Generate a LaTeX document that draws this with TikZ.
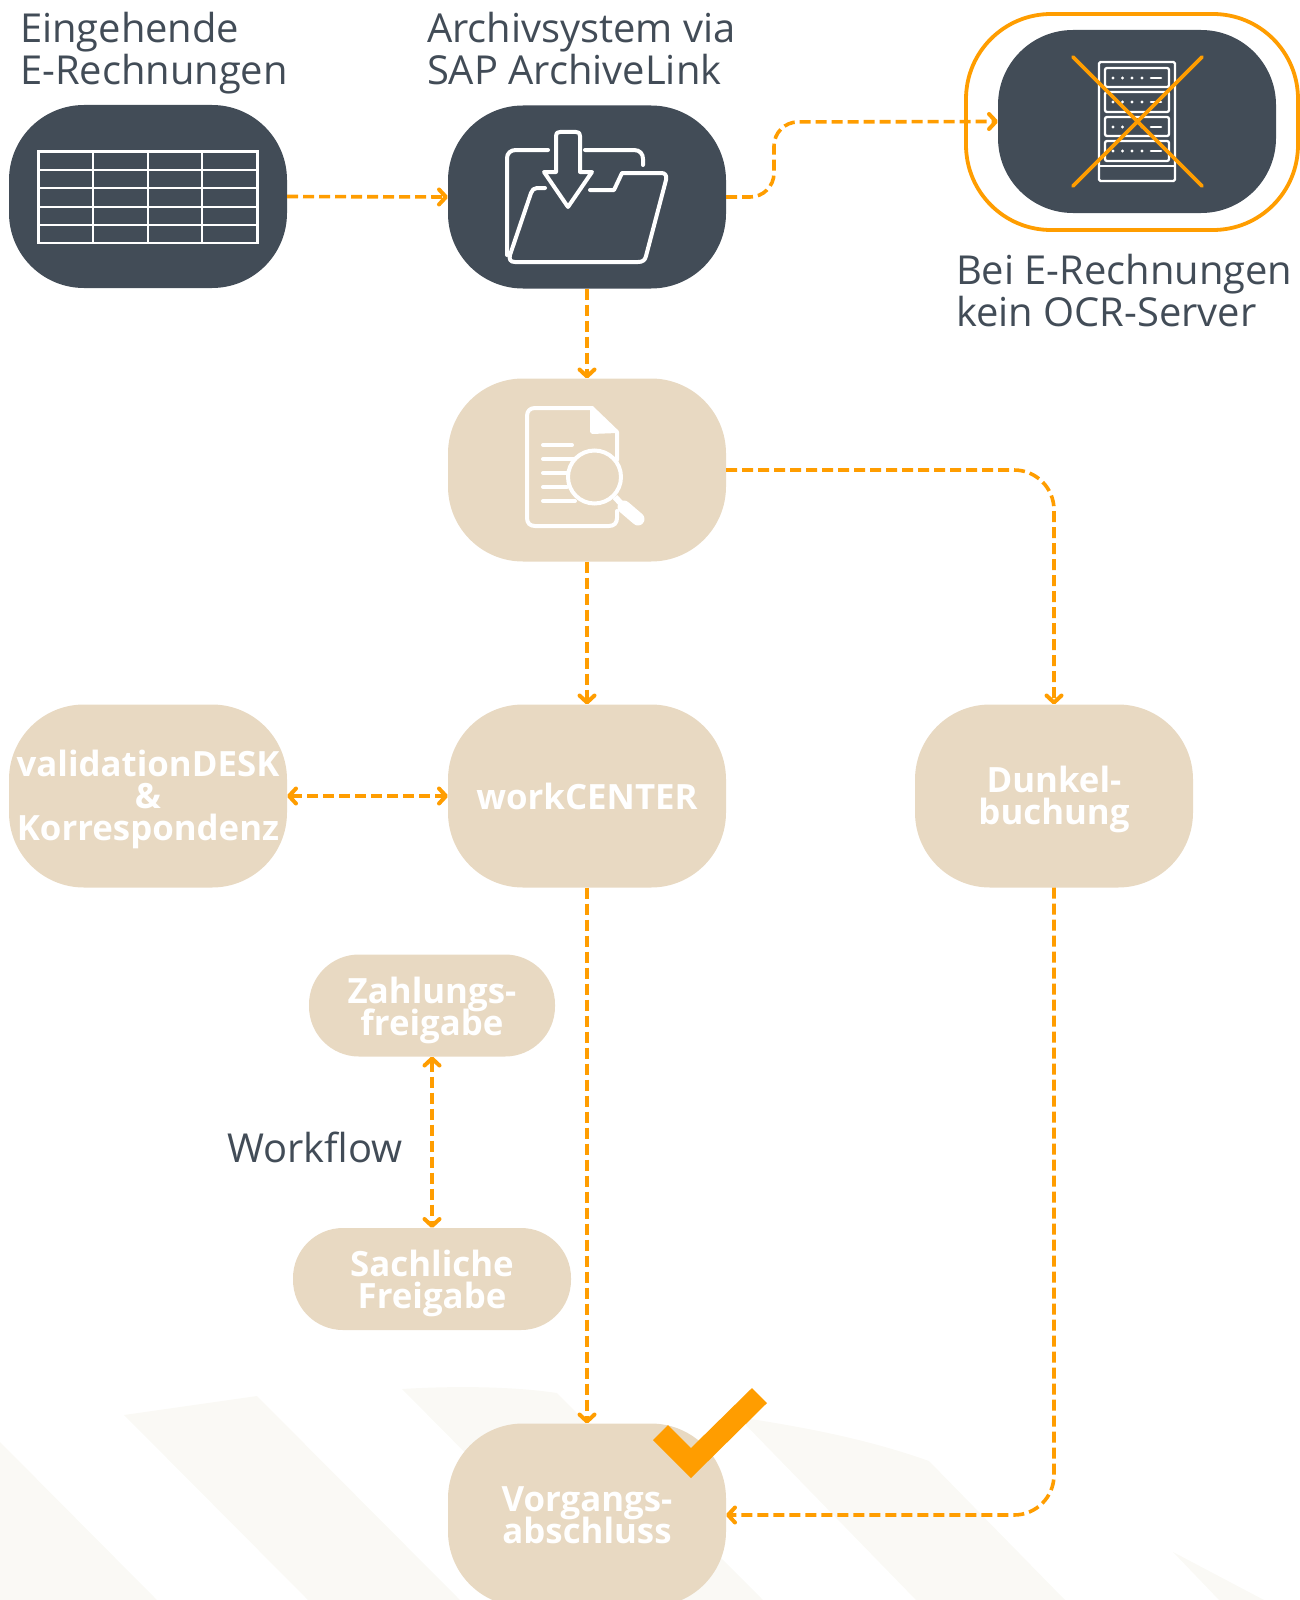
\documentclass[tikz,border=0pt]{standalone}
\usepackage{fontspec}
\setmainfont{Open Sans}
\usetikzlibrary{arrows.meta}
\normallineskiplimit=-100pt
\lineskiplimit=-100pt
\newcommand{\dn}[2]{\raisebox{-#1}[\height][\depth]{#2}}
\definecolor{dark}{HTML}{424C57}
\definecolor{beige}{HTML}{E8D9C2}
\definecolor{org}{HTML}{FF9D00}
\definecolor{faint}{HTML}{FAF9F5}
\tikzset{
  stepbase/.style={rectangle,rounded corners=75pt,minimum width=278pt,minimum height=183pt,inner sep=0pt,outer sep=0pt,align=center},
  darkbox/.style={stepbase,fill=dark},
  lightbox/.style={stepbase,fill=beige,text=white,font=\fontsize{34.8}{32}\selectfont\bfseries},
  smallbox/.style={lightbox,rounded corners=50pt,minimum height=102pt},
  lbl/.style={inner sep=0pt,outer sep=0pt,align=left,anchor=west,text=dark,font=\fontsize{39.9}{42}\selectfont},
  flow/.style={draw=org,line width=3.6pt,dash pattern=on 11pt off 5pt,rounded corners=36pt,
    -{Straight Barb[length=7pt,width=15pt,line width=4pt,round]}},
  flowboth/.style={flow,{Straight Barb[length=7pt,width=15pt,line width=4pt,round]}-{Straight Barb[length=7pt,width=15pt,line width=4pt,round]}},
  icon/.style={draw=white,line width=2.3pt},
  iconb/.style={draw=white,line width=4pt,line cap=round,line join=round},
}
\begin{document}
\begin{tikzpicture}[x=1pt,y=-1pt]
\useasboundingbox (0,0) rectangle (1300,1600);
\clip (0,0) rectangle (1300,1600);
% background bands
\fill[faint] (0,1442) -- (157,1600) -- (0,1600) -- cycle;
\fill[faint] (124,1415) -- (257,1396) -- (460,1600) -- (308,1600) -- cycle;
\fill[faint] (402,1389) .. controls (450,1386) and (510,1386) .. (557,1393) -- (763,1600) -- (611,1600) -- cycle;
\fill[faint] (738,1417) .. controls (810,1428) and (870,1440) .. (929,1461) -- (1065,1600) -- (916,1600) -- cycle;
\fill[faint] (1173,1552) -- (1264,1600) -- (1219,1600) -- cycle;
% nodes
\node[darkbox] (erech) at (148,196.5) {};
\node[darkbox] (arch) at (587,197) {};
\node[darkbox] (ocr) at (1137,121.5) {};
\draw[org,line width=3.8pt,rounded corners=85pt] (966,14) rectangle (1298,230);
\node[lightbox] (search) at (587,470) {};
\node[lightbox] (val) at (148,796) {\dn{3pt}{validationDESK}\\\dn{3pt}{\&}\\\dn{3pt}{Korrespondenz}};
\node[lightbox] (work) at (587,796) {workCENTER};
\node[lightbox] (dunkel) at (1054,796) {\dn{3pt}{Dunkel-}\\\dn{3pt}{buchung}};
\node[smallbox,minimum width=246pt] (zahl) at (432,1005.5) {\dn{5pt}{Zahlungs-}\\\dn{5pt}{freigabe}};
\node[smallbox] (sach) at (432,1279) {\dn{4pt}{Sachliche}\\\dn{4pt}{Freigabe}};
\node[lightbox] (vorg) at (587,1515) {Vorgangs-\\abschluss};
% labels
\node[lbl] (l1) at (20,53) {Eingehende\\E-Rechnungen};
\node[lbl] (l2) at (427,49) {Archivsystem via\\SAP ArchiveLink};
\node[lbl] (l3) at (956,291) {Bei E-Rechnungen\\kein OCR-Server};
\node[lbl] (l4) at (227,1147) {Workflow};
% table icon
\draw[icon] (38.5,151.5) rectangle (257.5,243);
\foreach \yy in {170,188,207,225} \draw[icon] (38.5,\yy) -- (257.5,\yy);
\foreach \xx in {93,148,202} \draw[icon] (\xx,151.5) -- (\xx,243);
% folder icon
\draw[iconb] (548,150) -- (516,150) .. controls (511,150) and (507,153) .. (507,158) -- (507,255);
\draw[iconb] (585,150) -- (634,150) .. controls (640,150) and (643,154) .. (643,159) -- (643,165);
\draw[iconb] (545,188) -- (537,188) .. controls (534,188) and (532,190) .. (531,193) -- (510,255) .. controls (509,259) and (510,262) .. (515,262) -- (638,262) .. controls (643,262) and (645,260) .. (646,256) -- (666,180) .. controls (667,175) and (665,173) .. (661,173) -- (622,173) -- (614,190) -- (590,190);
\draw[iconb] (556,172) -- (556,136) .. controls (556,133) and (557,132) .. (560,132) -- (576,132) .. controls (579,132) and (580,133) .. (580,136) -- (580,172) -- (592,172) -- (568,207) -- (544,172) -- cycle;
% server icon
\draw[icon,rounded corners=1.5pt] (1099,62) rectangle (1175,181);
\draw[icon] (1099,166) -- (1175,166);
\foreach \yt/\yb/\yd in {68/87/78,92/112/102,117/136/127,141/161/151}{
  \draw[icon,rounded corners=2pt] (1105,\yt) rectangle (1169,\yb);
  \foreach \xd in {1113,1122.5,1132,1142} \fill[white] (\xd,\yd) circle (1.6pt);
  \draw[white,line width=2.6pt,line cap=round] (1151,\yd) -- (1161,\yd);
}
\draw[org,line width=3.8pt,line cap=round] (1073,57) -- (1202,186) (1202,57) -- (1073,186);
% document icon
\draw[iconb] (592,408) -- (535,408) .. controls (530,408) and (527,411) .. (527,416) -- (527,518) .. controls (527,523) and (530,526) .. (535,526) -- (609,526) .. controls (614,526) and (617,523) .. (617,518) -- (617,511);
\draw[iconb] (592,408) -- (617,432) -- (617,460);
\fill[white] (590,408) -- (617,433) -- (592,434) -- (590,432) -- cycle;
\draw[iconb] (543,445) -- (572,445);
\draw[iconb] (543,459) -- (575,459);
\draw[iconb] (543,473) -- (567,473);
\draw[iconb] (543,487) -- (567,487);
\draw[iconb] (543,501) -- (575,501);
\draw[white,line width=4pt] (594.5,477) circle (26.5pt);
\draw[white,line width=6pt] (615,497) -- (628,511);
\draw[white,line width=13pt,line cap=round] (624,507) -- (638,519);
% connectors
\draw[flow] (erech.east) -- (arch.west);
\draw[flow,rounded corners=24pt] (arch.east) -- (774,197) -- (774,122) -- (ocr.west);
\draw[flow] (arch.south) -- (search.north);
\draw[flow,rounded corners=40pt] (search.east) -- (1054,470) -- (dunkel.north);
\draw[flow] (search.south) -- (work.north);
\draw[flowboth] (val.east) -- (work.west);
\draw[flow] (work.south) -- (vorg.north);
\draw[flowboth] (zahl.south) -- (sach.north);
\draw[flow,rounded corners=40pt] (dunkel.south) -- (1054,1515) -- (vorg.east);
% check mark
\fill[org] (752,1388) -- (767,1403) -- (691,1478) -- (653,1440) -- (668,1425) -- (691,1448) -- cycle;
\end{tikzpicture}
\end{document}
